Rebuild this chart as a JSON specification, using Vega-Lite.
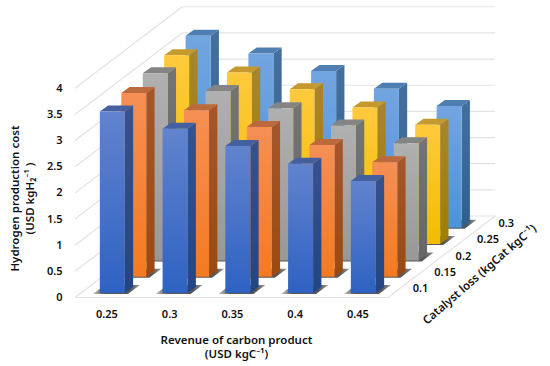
{"$schema":"https://vega.github.io/schema/vega-lite/v6.json","width":470,"height":305,"autosize":"none","padding":{"left":65,"top":0,"right":15,"bottom":61},"background":"white","config":{"view":{"stroke":null},"font":"Noto Sans","axis":{"grid":false,"domain":false,"ticks":false,"labelOverlap":false}},
"data":{"values":[
{"revenue":0.25,"catalyst":0.1,"cost":3.47},{"revenue":0.3,"catalyst":0.1,"cost":3.14},{"revenue":0.35,"catalyst":0.1,"cost":2.81},{"revenue":0.4,"catalyst":0.1,"cost":2.47},{"revenue":0.45,"catalyst":0.1,"cost":2.14},
{"revenue":0.25,"catalyst":0.15,"cost":3.51},{"revenue":0.3,"catalyst":0.15,"cost":3.18},{"revenue":0.35,"catalyst":0.15,"cost":2.86},{"revenue":0.4,"catalyst":0.15,"cost":2.52},{"revenue":0.45,"catalyst":0.15,"cost":2.19},
{"revenue":0.25,"catalyst":0.2,"cost":3.58},{"revenue":0.3,"catalyst":0.2,"cost":3.24},{"revenue":0.35,"catalyst":0.2,"cost":2.91},{"revenue":0.4,"catalyst":0.2,"cost":2.58},{"revenue":0.45,"catalyst":0.2,"cost":2.24},
{"revenue":0.25,"catalyst":0.25,"cost":3.61},{"revenue":0.3,"catalyst":0.25,"cost":3.28},{"revenue":0.35,"catalyst":0.25,"cost":2.96},{"revenue":0.4,"catalyst":0.25,"cost":2.61},{"revenue":0.45,"catalyst":0.25,"cost":2.28},
{"revenue":0.25,"catalyst":0.3,"cost":3.67},{"revenue":0.3,"catalyst":0.3,"cost":3.33},{"revenue":0.35,"catalyst":0.3,"cost":3.0},{"revenue":0.4,"catalyst":0.3,"cost":2.66},{"revenue":0.45,"catalyst":0.3,"cost":2.33}
]},
"transform":[
{"calculate":"[0,1]","as":"d"},{"flatten":["d"]},
{"calculate":"datum.revenue+0.00473+(datum.catalyst-0.1)*0.3418-0.00996","as":"xl"},
{"calculate":"datum.xl+0.01992","as":"xr"},
{"calculate":"0.0863+(datum.catalyst-0.1)*6.233","as":"yb"},
{"calculate":"datum.yb+datum.cost","as":"yt"},
{"calculate":"datum.xr+datum.d*0.00661","as":"xrd"},
{"calculate":"datum.xl+datum.d*0.00661","as":"xld"},
{"calculate":"datum.yb+datum.d*0.1147","as":"ybd"},
{"calculate":"datum.yt+datum.d*0.1147","as":"ytd"},
{"calculate":"datum.yb-0.019+datum.d*0.172","as":"sy"},
{"calculate":"datum.xl-0.00558+datum.d*0.00956","as":"sx"},
{"calculate":"datum.xr+0.0024+datum.d*0.00956","as":"sx2"}
],
"layer":[
{"data":{"values":[{"tick":0},{"tick":0.5},{"tick":1},{"tick":1.5},{"tick":2},{"tick":2.5},{"tick":3},{"tick":3.5},{"tick":4}]},
"transform":[{"calculate":"datum.tick+1.5585","as":"back"},{"calculate":"0.31043","as":"bl"},{"calculate":"0.55983","as":"br"}],
"mark":{"type":"rule","stroke":"#E3E3E3","strokeWidth":1.2},"encoding":{
"x":{"field":"bl","type":"quantitative","scale":{"domain":[0.21701,0.59151],"nice":false,"zero":false},"axis":{"values":[0.25,0.3,0.35,0.4,0.45],"tickCount":20,"format":".2~f","labelOverlap":false,"labelFontSize":11,"labelFontWeight":600,"labelColor":"#111","labelPadding":3,"title":["Revenue of carbon product","(USD kgC⁻¹)"],"titleFontSize":11.5,"titleFontWeight":600,"titleColor":"#111","titleLineHeight":14.5,"titleX":171,"titleY":35,"titleBaseline":"middle"}},
"x2":{"field":"br"},
"y":{"field":"back","type":"quantitative","scale":{"domain":[-0.1434,5.688],"nice":false,"zero":false},"axis":{"values":[0,0.5,1,1.5,2,2.5,3,3.5,4],"tickCount":20,"format":".1~f","labelOverlap":false,"labelFontSize":11,"labelFontWeight":600,"labelColor":"#111","labelPadding":3,"title":["Hydrogen production cost","(USD kgH₂⁻¹ )"],"titleFontSize":11.5,"titleFontWeight":600,"titleColor":"#111","titleLineHeight":15.5,"titleX":-50,"titleY":198,"titleBaseline":"middle"}}}},
{"data":{"values":[{"tick":0},{"tick":0.5},{"tick":1},{"tick":1.5},{"tick":2},{"tick":2.5},{"tick":3},{"tick":3.5},{"tick":4}]},
"transform":[{"calculate":"datum.tick+1.5585","as":"back"},{"calculate":"0.31043","as":"bl"},{"calculate":"0.22498","as":"fl"}],
"mark":{"type":"rule","stroke":"#E3E3E3","strokeWidth":1.2},"encoding":{"x":{"field":"fl","type":"quantitative"},"x2":{"field":"bl"},"y":{"field":"tick","type":"quantitative"},"y2":{"field":"back"}}},
{"data":{"values":[{"fx":0.22498,"fx2":0.47438,"fy":0,"fy2":0},{"fx":0.47438,"fx2":0.55983,"fy":0,"fy2":1.5585}]},
"mark":{"type":"rule","stroke":"#E3E3E3","strokeWidth":1.2},"encoding":{"x":{"field":"fx","type":"quantitative"},"x2":{"field":"fx2"},"y":{"field":"fy","type":"quantitative"},"y2":{"field":"fy2"}}},
{"mark":{"type":"area","orient":"horizontal","fill":{"gradient":"linear","x1":0,"y1":0,"x2":1,"y2":0,"stops":[{"offset":0,"color":"#C8C8C8"},{"offset":0.25,"color":"#555555"},{"offset":0.8,"color":"#555555"},{"offset":1,"color":"#999999"}]}},"encoding":{"y":{"field":"sy","type":"quantitative"},"x":{"field":"sx","type":"quantitative"},"x2":{"field":"sx2"},"detail":[{"field":"revenue"},{"field":"catalyst"}]}},

{"transform":[{"filter":"datum.catalyst==0.3"}],"mark":{"type":"area","fill":{"gradient":"linear","x1":0,"y1":0,"x2":0,"y2":1,"stops":[{"offset":0,"color":"#44709F"},{"offset":1,"color":"#305F8E"}]}},"encoding":{"x":{"field":"xrd","type":"quantitative"},"y":{"field":"ytd","type":"quantitative"},"y2":{"field":"ybd"},"detail":{"field":"revenue"}}},
{"transform":[{"filter":"datum.catalyst==0.3"}],"mark":{"type":"area","orient":"horizontal","fill":"#4F7FB0"},"encoding":{"y":{"field":"ytd","type":"quantitative"},"x":{"field":"xld","type":"quantitative"},"x2":{"field":"xrd"},"detail":{"field":"revenue"}}},
{"transform":[{"filter":"datum.catalyst==0.3 && datum.d==0"}],"mark":{"type":"rect","fill":{"gradient":"linear","x1":0,"y1":0,"x2":0,"y2":1,"stops":[{"offset":0,"color":"#72A5E0"},{"offset":1,"color":"#4B94D8"}]}},"encoding":{"x":{"field":"xl","type":"quantitative"},"x2":{"field":"xr"},"y":{"field":"yt","type":"quantitative"},"y2":{"field":"yb"}}},

{"transform":[{"filter":"datum.catalyst==0.25"}],"mark":{"type":"area","fill":{"gradient":"linear","x1":0,"y1":0,"x2":0,"y2":1,"stops":[{"offset":0,"color":"#A8852C"},{"offset":1,"color":"#A07D00"}]}},"encoding":{"x":{"field":"xrd","type":"quantitative"},"y":{"field":"ytd","type":"quantitative"},"y2":{"field":"ybd"},"detail":{"field":"revenue"}}},
{"transform":[{"filter":"datum.catalyst==0.25"}],"mark":{"type":"area","orient":"horizontal","fill":"#C49A2E"},"encoding":{"y":{"field":"ytd","type":"quantitative"},"x":{"field":"xld","type":"quantitative"},"x2":{"field":"xrd"},"detail":{"field":"revenue"}}},
{"transform":[{"filter":"datum.catalyst==0.25 && datum.d==0"}],"mark":{"type":"rect","fill":{"gradient":"linear","x1":0,"y1":0,"x2":0,"y2":1,"stops":[{"offset":0,"color":"#FFC93C"},{"offset":1,"color":"#F2BC00"}]}},"encoding":{"x":{"field":"xl","type":"quantitative"},"x2":{"field":"xr"},"y":{"field":"yt","type":"quantitative"},"y2":{"field":"yb"}}},

{"transform":[{"filter":"datum.catalyst==0.2"}],"mark":{"type":"area","fill":{"gradient":"linear","x1":0,"y1":0,"x2":0,"y2":1,"stops":[{"offset":0,"color":"#747474"},{"offset":1,"color":"#666666"}]}},"encoding":{"x":{"field":"xrd","type":"quantitative"},"y":{"field":"ytd","type":"quantitative"},"y2":{"field":"ybd"},"detail":{"field":"revenue"}}},
{"transform":[{"filter":"datum.catalyst==0.2"}],"mark":{"type":"area","orient":"horizontal","fill":"#848484"},"encoding":{"y":{"field":"ytd","type":"quantitative"},"x":{"field":"xld","type":"quantitative"},"x2":{"field":"xrd"},"detail":{"field":"revenue"}}},
{"transform":[{"filter":"datum.catalyst==0.2 && datum.d==0"}],"mark":{"type":"rect","fill":{"gradient":"linear","x1":0,"y1":0,"x2":0,"y2":1,"stops":[{"offset":0,"color":"#B0B0B0"},{"offset":1,"color":"#989898"}]}},"encoding":{"x":{"field":"xl","type":"quantitative"},"x2":{"field":"xr"},"y":{"field":"yt","type":"quantitative"},"y2":{"field":"yb"}}},

{"transform":[{"filter":"datum.catalyst==0.15"}],"mark":{"type":"area","fill":{"gradient":"linear","x1":0,"y1":0,"x2":0,"y2":1,"stops":[{"offset":0,"color":"#A5562C"},{"offset":1,"color":"#9A4A10"}]}},"encoding":{"x":{"field":"xrd","type":"quantitative"},"y":{"field":"ytd","type":"quantitative"},"y2":{"field":"ybd"},"detail":{"field":"revenue"}}},
{"transform":[{"filter":"datum.catalyst==0.15"}],"mark":{"type":"area","orient":"horizontal","fill":"#BC6A3C"},"encoding":{"y":{"field":"ytd","type":"quantitative"},"x":{"field":"xld","type":"quantitative"},"x2":{"field":"xrd"},"detail":{"field":"revenue"}}},
{"transform":[{"filter":"datum.catalyst==0.15 && datum.d==0"}],"mark":{"type":"rect","fill":{"gradient":"linear","x1":0,"y1":0,"x2":0,"y2":1,"stops":[{"offset":0,"color":"#F58F55"},{"offset":1,"color":"#F47A20"}]}},"encoding":{"x":{"field":"xl","type":"quantitative"},"x2":{"field":"xr"},"y":{"field":"yt","type":"quantitative"},"y2":{"field":"yb"}}},

{"transform":[{"filter":"datum.catalyst==0.1"}],"mark":{"type":"area","fill":{"gradient":"linear","x1":0,"y1":0,"x2":0,"y2":1,"stops":[{"offset":0,"color":"#37528C"},{"offset":1,"color":"#234582"}]}},"encoding":{"x":{"field":"xrd","type":"quantitative"},"y":{"field":"ytd","type":"quantitative"},"y2":{"field":"ybd"},"detail":{"field":"revenue"}}},
{"transform":[{"filter":"datum.catalyst==0.1"}],"mark":{"type":"area","orient":"horizontal","fill":"#44609F"},"encoding":{"y":{"field":"ytd","type":"quantitative"},"x":{"field":"xld","type":"quantitative"},"x2":{"field":"xrd"},"detail":{"field":"revenue"}}},
{"transform":[{"filter":"datum.catalyst==0.1 && datum.d==0"}],"mark":{"type":"rect","fill":{"gradient":"linear","x1":0,"y1":0,"x2":0,"y2":1,"stops":[{"offset":0,"color":"#6283CE"},{"offset":1,"color":"#2E62C2"}]}},"encoding":{"x":{"field":"xl","type":"quantitative"},"x2":{"field":"xr"},"y":{"field":"yt","type":"quantitative"},"y2":{"field":"yb"}}},

{"data":{"values":[{"catalyst":0.1},{"catalyst":0.15},{"catalyst":0.2},{"catalyst":0.25},{"catalyst":0.3}]},
"transform":[{"calculate":"0.47438+(datum.catalyst-0.075)*0.3418","as":"lx"},{"calculate":"(datum.catalyst-0.075)*6.233","as":"ly"}],
"mark":{"type":"text","align":"left","baseline":"middle","dx":14,"fontSize":11,"fontWeight":600,"fill":"#111"},
"encoding":{"x":{"field":"lx","type":"quantitative"},"y":{"field":"ly","type":"quantitative"},"text":{"field":"catalyst","type":"quantitative","format":"~g"}}},
{"data":{"values":[{"label":"Catalyst loss (kgCat kgC⁻¹)","tx":0.5477,"ty":0.43}]},
"mark":{"type":"text","align":"center","baseline":"middle","angle":319,"fontSize":11.5,"fontWeight":600,"fill":"#111"},
"encoding":{"x":{"field":"tx","type":"quantitative"},"y":{"field":"ty","type":"quantitative"},"text":{"field":"label"}}}
]}
